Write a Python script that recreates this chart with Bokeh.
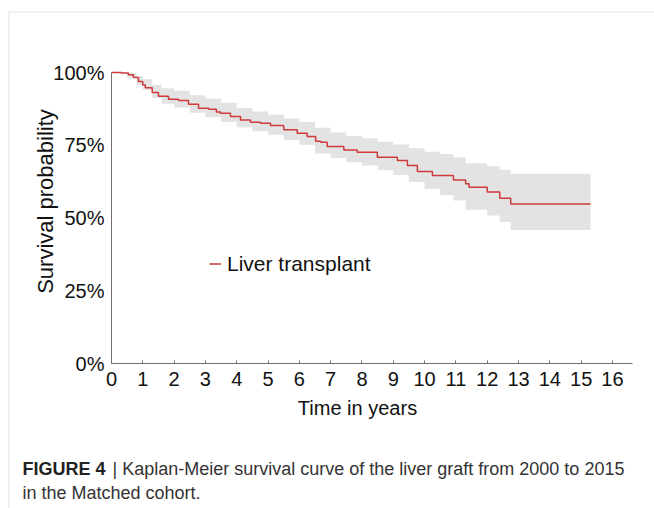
import math
from bokeh.plotting import figure
from bokeh.models import (Label, Legend, LegendItem, NumeralTickFormatter, FixedTicker,
                          Range1d, PolyAnnotation, ColumnDataSource)
from bokeh.embed import file_html
from bokeh.resources import INLINE

# ---- data ----
time = [0, 0.32, 0.54, 0.70, 0.86, 1.00, 1.08, 1.30, 1.50, 1.82, 2.14, 2.46, 2.78, 3.10,
        3.35, 3.48, 3.80, 4.12, 4.44, 4.76, 5.08, 5.50, 5.93, 6.25, 6.52, 6.68, 6.89,
        7.42, 7.85, 8.49, 9.13, 9.45, 9.77, 10.25, 10.92, 11.31, 11.42, 12.00, 12.40,
        12.75, 15.30]
surv = [1.000, 0.998, 0.992, 0.983, 0.969, 0.957, 0.948, 0.931, 0.918, 0.908, 0.904,
        0.891, 0.877, 0.874, 0.864, 0.860, 0.849, 0.837, 0.829, 0.826, 0.818, 0.803,
        0.791, 0.780, 0.764, 0.760, 0.746, 0.734, 0.726, 0.709, 0.698, 0.680, 0.660,
        0.646, 0.631, 0.618, 0.606, 0.589, 0.568, 0.548, 0.548]

band_t = [0, 0.5, 0.8, 1.0, 1.3, 1.6, 2.0, 2.5, 3.0, 3.5, 4.0, 4.5, 5.0, 5.5, 6.0, 6.5,
          7.0, 7.5, 8.0, 8.5, 9.0, 9.5, 10.0, 10.5, 10.92, 11.31, 12.0, 12.4, 12.75, 15.3]
lower = [1.000, 0.982, 0.955, 0.940, 0.912, 0.893, 0.880, 0.862, 0.846, 0.830, 0.812,
         0.798, 0.786, 0.768, 0.752, 0.722, 0.706, 0.692, 0.680, 0.664, 0.648, 0.624,
         0.600, 0.579, 0.560, 0.528, 0.509, 0.486, 0.459, 0.459]
upper = [1.000, 0.999, 0.988, 0.977, 0.958, 0.946, 0.937, 0.922, 0.910, 0.896, 0.878,
         0.866, 0.856, 0.842, 0.830, 0.810, 0.794, 0.782, 0.774, 0.762, 0.753, 0.740,
         0.728, 0.720, 0.709, 0.688, 0.678, 0.666, 0.652, 0.652]

x_ticks = list(range(0, 17))
y_ticks = [0, 0.25, 0.5, 0.75, 1.0]
x_axis_end = 16.64

series_label = "Liver transplant"
x_title = "Time in years"
y_title = "Survival probability"
caption_bold = "FIGURE 4"
caption_line1 = "| Kaplan-Meier survival curve of the liver graft from 2000 to 2015"
caption_line2 = "in the Matched cohort."

FONT = "Liberation Sans"
RED = "#cf3a3a"

W, H = 654, 508
X0, Y0 = 111, 363          # canvas position of the (0, 0%) corner
SX, SY = 31.31, 291.0      # pixels per year / per 100 %

p = figure(width=W, height=H, output_backend="svg", toolbar_location=None,
           x_range=Range1d(-X0 / SX, (W - X0) / SX),
           y_range=Range1d(-(H - Y0) / SY, Y0 / SY),
           min_border=0, min_border_left=0, min_border_right=0,
           min_border_top=0, min_border_bottom=0)
p.background_fill_color = "white"
p.border_fill_color = "white"
p.outline_line_color = None
p.grid.visible = False

band_src = ColumnDataSource(dict(x=band_t, y1=lower, y2=upper))
p.varea_step(x="x", y1="y1", y2="y2", step_mode="after", source=band_src,
             fill_color="#e3e3e3")
curve = p.step(time, surv, mode="after", line_color=RED, line_width=1.5)

for ax in (p.xaxis[0], p.yaxis[0]):
    ax.fixed_location = 0
    ax.axis_line_color = "#6f6f6f"
    ax.major_tick_line_color = "#6f6f6f"
    ax.minor_tick_line_color = None
    ax.major_label_text_font = FONT
    ax.major_label_text_font_size = "20px"
    ax.major_label_text_color = "#111111"

p.xaxis.bounds = (0, x_axis_end)
p.xaxis.ticker = FixedTicker(ticks=x_ticks)
p.xaxis.major_tick_in = 3
p.xaxis.major_tick_out = 0
p.xaxis.major_label_standoff = 8
p.yaxis.bounds = (0, 1)
p.yaxis.ticker = FixedTicker(ticks=y_ticks)
p.yaxis.formatter = NumeralTickFormatter(format="0%")
p.yaxis.major_tick_in = 0
p.yaxis.major_tick_out = 0
p.yaxis.major_label_standoff = 7

def px(x):   # canvas x -> data
    return (x - X0) / SX

def py(y):   # canvas y -> data
    return (Y0 - y) / SY

# axis titles
p.add_layout(Label(x=px(357), y=py(407), text=x_title,
                   text_font=FONT, text_font_size="20px", text_color="#111111",
                   text_align="center", text_baseline="middle"))
p.add_layout(Label(x=px(45), y=py(201), text=y_title,
                   angle=math.pi / 2, text_font=FONT, text_font_size="22px",
                   text_color="#111111", text_align="center", text_baseline="middle"))

legend = Legend(items=[LegendItem(label=series_label, renderers=[curve])],
                location=(209, H - 265 - 10.5), padding=0, margin=0, spacing=0,
                glyph_width=12, glyph_height=21, label_height=21, label_standoff=6,
                label_text_font=FONT, label_text_font_size="21px",
                label_text_color="#111111",
                border_line_color=None, background_fill_alpha=0)
p.add_layout(legend, "center")

# caption
p.add_layout(Label(x=px(22), y=py(468), text=caption_bold,
                   text_font=FONT, text_font_size="18px", text_font_style="bold",
                   text_color="#222222", text_baseline="middle"))
p.add_layout(Label(x=px(112), y=py(468), text=caption_line1,
                   text_font=FONT, text_font_size="18px", text_color="#333333",
                   text_baseline="middle"))
p.add_layout(Label(x=px(22), y=py(492), text=caption_line2,
                   text_font=FONT, text_font_size="18px", text_color="#333333",
                   text_baseline="middle"))

# page frame border (top and left edges)
p.add_layout(PolyAnnotation(xs=[px(8.5), px(8.5), px(900), px(900)],
                            ys=[py(900), py(11.5), py(11.5), py(900)],
                            fill_alpha=0, line_color="#9a9a9a", line_width=1))

open("out.html", "w").write(file_html(p, INLINE))
